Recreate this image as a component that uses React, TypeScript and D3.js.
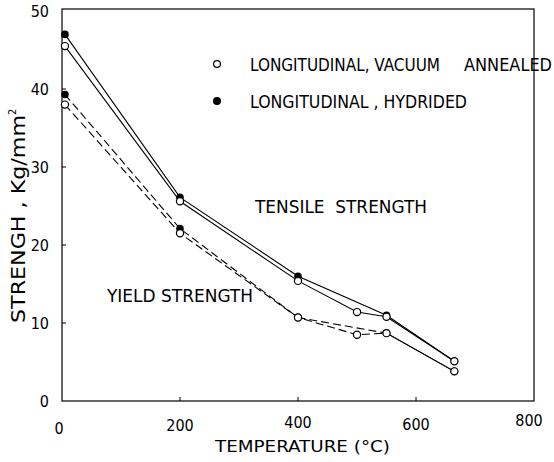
import React, { useEffect, useRef } from 'react';
import * as d3 from 'd3';

// values (temperature in °C, strength in Kg/mm²)
const tensileHydTemp = [5, 200, 400, 550, 665];
const tensileHyd = [47, 26.1, 16, 11, 5.1];
const tensileAnnTemp = [5, 200, 400, 500, 550, 665];
const tensileAnn = [45.5, 25.6, 15.4, 11.4, 10.8, 5.1];
const yieldHydTemp = [5, 200, 400, 550, 665];
const yieldHyd = [39.3, 22.1, 10.7, 8.7, 3.8];
const yieldAnnTemp = [5, 200, 400, 500, 550, 665];
const yieldAnn = [38, 21.5, 10.7, 8.5, 8.7, 3.8];

const xTicks = [0, 200, 400, 600, 800];
const yTicks = [0, 10, 20, 30, 40, 50];
// legend text pieces: [text, pixel width]
const legendLabels: [string, number][][] = [
  [['LONGITUDINAL, VACUUM', 190], ['ANNEALED', 88]],
  [['LONGITUDINAL , HYDRIDED', 217]],
];

const FONT = "'DejaVu Sans Condensed', 'Liberation Sans Narrow', 'DejaVu Sans', sans-serif";

const zip = (xs: number[], ys: number[]) => xs.map((x, i) => ({ t: x, v: ys[i] }));

const App = () => {
  const svgRef = useRef<SVGSVGElement>(null);

  useEffect(() => {
    const width = 554;
    const height = 462;
    const margin = { top: 11, right: 20, bottom: 61, left: 62 };

    const svg = d3.select(svgRef.current)
      .attr('width', width)
      .attr('height', height);
    svg.selectAll('*').remove();

    const x = d3.scaleLinear().domain([0, 800]).range([margin.left, width - margin.right]);
    const y = d3.scaleLinear().domain([0, 50]).range([height - margin.bottom, margin.top]);

    // frame
    svg.append('rect')
      .attr('x', x(0))
      .attr('y', y(50) - 2)
      .attr('width', x(800) - x(0))
      .attr('height', y(0) - y(50) + 2)
      .attr('fill', 'none')
      .attr('stroke', '#000')
      .attr('stroke-width', 1.2);

    // inward ticks
    yTicks.slice(1, -1).forEach(t => {
      svg.append('line')
        .attr('x1', x(0)).attr('x2', x(0) + 4)
        .attr('y1', y(t)).attr('y2', y(t))
        .attr('stroke', '#000');
    });
    xTicks.slice(1, -1).forEach(t => {
      svg.append('line')
        .attr('x1', x(t)).attr('x2', x(t))
        .attr('y1', y(0)).attr('y2', y(0) - 4)
        .attr('stroke', '#000');
    });

    // tick labels
    svg.selectAll('.ylab')
      .data(yTicks)
      .enter().append('text')
      .attr('class', 'ylab')
      .attr('x', 49)
      .attr('y', d => y(d))
      .attr('dy', '0.36em')
      .attr('text-anchor', 'end')
      .attr('font-family', FONT)
      .attr('font-size', 16)
      .text(d => d);

    const xLabBase: Record<number, number> = { 0: 434, 200: 431, 400: 428, 600: 430, 800: 426 };
    svg.selectAll('.xlab')
      .data(xTicks)
      .enter().append('text')
      .attr('class', 'xlab')
      .attr('x', d => (d === 0 ? x(d) - 3 : x(d) - (d === 800 ? 5 : 0)))
      .attr('y', d => xLabBase[d])
      .attr('text-anchor', 'middle')
      .attr('font-family', FONT)
      .attr('font-size', 16)
      .text(d => d);

    // axis titles
    svg.append('text')
      .attr('x', 215)
      .attr('y', 452)
      .attr('font-family', FONT)
      .attr('font-size', 16)
      .attr('textLength', 175)
      .attr('lengthAdjust', 'spacingAndGlyphs')
      .text('TEMPERATURE (°C)');

    const yTitle = svg.append('text')
      .attr('transform', 'translate(25,323) rotate(-90)')
      .attr('font-family', FONT)
      .attr('font-size', 20);
    yTitle.append('tspan')
      .attr('textLength', 208)
      .attr('lengthAdjust', 'spacingAndGlyphs')
      .text('STRENGH , Kg/mm');
    yTitle.append('tspan').attr('font-size', 11).attr('dy', -9).text('2');

    // series
    const line = d3.line<{ t: number; v: number }>()
      .x(d => x(d.t))
      .y(d => y(d.v));

    const tHyd = zip(tensileHydTemp, tensileHyd);
    const tAnn = zip(tensileAnnTemp, tensileAnn);
    const yHyd = zip(yieldHydTemp, yieldHyd);
    const yAnn = zip(yieldAnnTemp, yieldAnn);

    [tHyd, tAnn].forEach(s => {
      svg.append('path')
        .attr('d', line(s))
        .attr('fill', 'none')
        .attr('stroke', '#000')
        .attr('stroke-width', 1.1);
    });

    [yHyd, yAnn].forEach(s => {
      // dashed up to 550 °C, solid after that
      svg.append('path')
        .attr('d', line(s.slice(0, -1)))
        .attr('fill', 'none')
        .attr('stroke', '#000')
        .attr('stroke-width', 1.1)
        .attr('stroke-dasharray', '8,4');
      svg.append('path')
        .attr('d', line(s.slice(-2)))
        .attr('fill', 'none')
        .attr('stroke', '#000')
        .attr('stroke-width', 1.1);
    });

    // hydrided markers (filled) below, annealed (open) on top
    [tHyd, yHyd].forEach(s => {
      svg.selectAll(null)
        .data(s)
        .enter().append('circle')
        .attr('cx', d => x(d.t))
        .attr('cy', d => y(d.v))
        .attr('r', 3.8)
        .attr('fill', '#000');
    });
    [tAnn, yAnn].forEach(s => {
      svg.selectAll(null)
        .data(s)
        .enter().append('circle')
        .attr('cx', d => x(d.t))
        .attr('cy', d => y(d.v))
        .attr('r', 3.6)
        .attr('fill', '#fff')
        .attr('stroke', '#000')
        .attr('stroke-width', 1.2);
    });

    // legend
    const legendY = [64, 101];
    const pieceX = [[250, 464], [250]];
    legendLabels.forEach((pieces, i) => {
      svg.append('circle')
        .attr('cx', 217)
        .attr('cy', legendY[i])
        .attr('r', 3.4)
        .attr('fill', i === 0 ? '#fff' : '#000')
        .attr('stroke', '#000')
        .attr('stroke-width', 1.2);
      pieces.forEach(([lab, len], j) => {
        svg.append('text')
          .attr('x', pieceX[i][j])
          .attr('y', legendY[i] + 7)
          .attr('font-family', FONT)
          .attr('font-size', 18)
          .attr('textLength', len)
          .attr('lengthAdjust', 'spacingAndGlyphs')
          .text(lab);
      });
    });

    // curve annotations
    svg.append('text')
      .attr('x', 255)
      .attr('y', 213)
      .attr('font-family', FONT)
      .attr('font-size', 17)
      .style('white-space', 'pre')
      .attr('textLength', 172)
      .attr('lengthAdjust', 'spacingAndGlyphs')
      .text('TENSILE  STRENGTH');

    svg.append('text')
      .attr('x', 107)
      .attr('y', 302)
      .attr('font-family', FONT)
      .attr('font-size', 18)
      .attr('textLength', 146)
      .attr('lengthAdjust', 'spacingAndGlyphs')
      .text('YIELD STRENGTH');
  }, []);

  return (
    <svg ref={svgRef} style={{ position: 'absolute', left: 0, top: 0, background: '#fff' }}></svg>
  );
};

export default App;
